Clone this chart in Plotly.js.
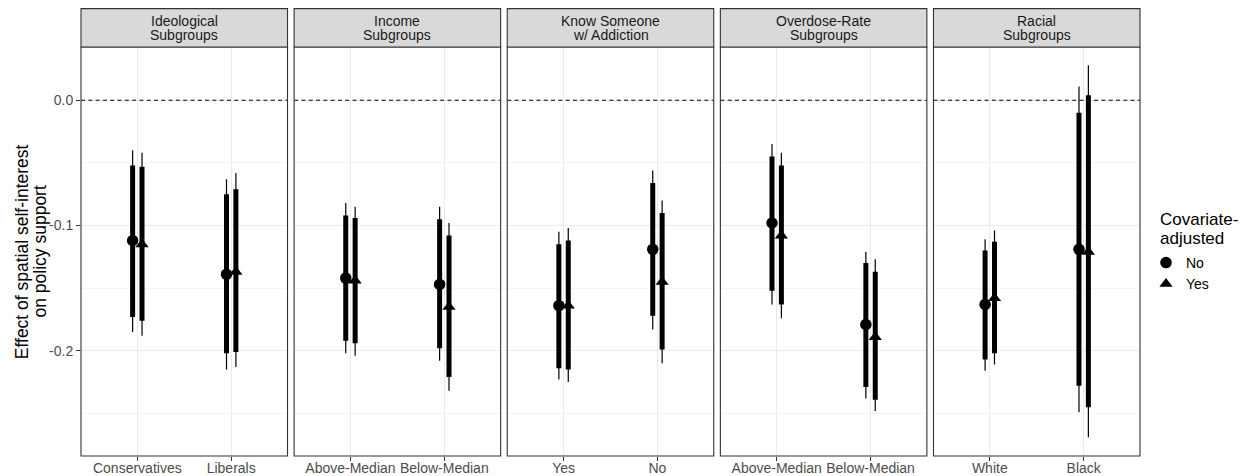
<!DOCTYPE html>
<html>
<head>
<meta charset="utf-8">
<script src="https://cdn.plot.ly/plotly-3.0.1.min.js"></script>
<style>html,body{margin:0;padding:0;background:#fff;}#chart{width:1249px;height:476px;}</style>
</head>
<body>
<div id="chart"></div>
<script>
// ---------------- data ----------------
const stripLine1 = ['Ideological', 'Income', 'Know Someone', 'Overdose-Rate', 'Racial'];
const stripLine2 = ['Subgroups', 'Subgroups', 'w/ Addiction', 'Subgroups', 'Subgroups'];
const categories = [
  ['Conservatives', 'Liberals'],
  ['Above-Median', 'Below-Median'],
  ['Yes', 'No'],
  ['Above-Median', 'Below-Median'],
  ['White', 'Black']
];
const seriesNames = ['No', 'Yes'];
const legendTitleLines = ['Covariate-', 'adjusted'];

// Covariate-adjusted: No  (point estimate, inner interval, outer interval)
const estNo     = [[-0.112, -0.139], [-0.142, -0.147], [-0.164, -0.119], [-0.098, -0.179], [-0.163, -0.119]];
const innerLoNo = [[-0.173, -0.202], [-0.192, -0.198], [-0.214, -0.172], [-0.152, -0.229], [-0.207, -0.228]];
const innerHiNo = [[-0.052, -0.075], [-0.092, -0.095], [-0.115, -0.066], [-0.045, -0.130], [-0.120, -0.010]];
const outerLoNo = [[-0.185, -0.215], [-0.202, -0.208], [-0.223, -0.183], [-0.163, -0.238], [-0.216, -0.249]];
const outerHiNo = [[-0.040, -0.063], [-0.082, -0.085], [-0.105, -0.056], [-0.035, -0.121], [-0.111,  0.011]];

// Covariate-adjusted: Yes
const estYes     = [[-0.115, -0.137], [-0.144, -0.165], [-0.164, -0.145], [-0.108, -0.189], [-0.158, -0.121]];
const innerLoYes = [[-0.176, -0.201], [-0.194, -0.221], [-0.215, -0.199], [-0.163, -0.239], [-0.202, -0.245]];
const innerHiYes = [[-0.053, -0.071], [-0.094, -0.108], [-0.112, -0.090], [-0.052, -0.137], [-0.113,  0.004]];
const outerLoYes = [[-0.188, -0.213], [-0.204, -0.232], [-0.225, -0.210], [-0.174, -0.248], [-0.211, -0.269]];
const outerHiYes = [[-0.042, -0.058], [-0.085, -0.098], [-0.102, -0.080], [-0.042, -0.127], [-0.104,  0.028]];

const yTickVals = [-0.2, -0.1, 0.0];
const yTickText = ['-0.2', '-0.1', '0.0'];
const yMinorVals = [-0.25, -0.15, -0.05];
const referenceY = 0;

// ---------------- layout constants ----------------
const W = 1249, H = 476;
const M = {l: 81, r: 109, t: 47, b: 20};
const plotW = W - M.l - M.r, plotH = H - M.t - M.b;
const nPanels = 5, gapPx = 6.6;
const panelW = (plotW - gapPx * (nPanels - 1)) / nPanels;
const xRange = [0.4, 2.6];
const yRange = [-0.284, 0.0425];
const dodge = [-0.05, 0.05];
const stripH = 38.4;
const FONT = 'Liberation Sans, Arial, Helvetica, sans-serif';
const px2y = py => (H - M.b - py) / plotH;   // page pixel row -> paper y
const px2x = px => (px - M.l) / plotW;       // page pixel col -> paper x

const series = [
  {name: seriesNames[0], est: estNo, iLo: innerLoNo, iHi: innerHiNo, oLo: outerLoNo, oHi: outerHiNo, symbol: 'circle', size: 11.5},
  {name: seriesNames[1], est: estYes, iLo: innerLoYes, iHi: innerHiYes, oLo: outerLoYes, oHi: outerHiYes, symbol: 'triangle-up', size: 11.5}
];

const traces = [];
const layout = {
  width: W, height: H,
  margin: M,
  paper_bgcolor: '#fff', plot_bgcolor: '#fff',
  font: {family: FONT, size: 14, color: '#000'},
  showlegend: true,
  legend: {
    font: {size: 14, color: '#000', family: FONT},
    x: px2x(1146), xanchor: 'left',
    y: px2y(247), yanchor: 'top',
    bgcolor: 'rgba(0,0,0,0)', borderwidth: 0,
    itemwidth: 30, tracegroupgap: 0
  },
  shapes: [],
  annotations: []
};

for (let p = 0; p < nPanels; p++) {
  const sfx = p === 0 ? '' : String(p + 1);
  const xa = 'x' + sfx, ya = 'y' + sfx;
  const d0 = (p * (panelW + gapPx)) / plotW;
  const d1 = (p * (panelW + gapPx) + panelW) / plotW;

  layout['xaxis' + sfx] = {
    domain: [d0, d1], anchor: ya, range: xRange,
    tickmode: 'array', tickvals: [1, 2], ticktext: categories[p],
    ticks: 'outside', ticklen: 4, tickwidth: 1, tickcolor: '#333333',
    ticklabelstandoff: -5,
    tickfont: {size: 14, color: '#4D4D4D', family: FONT},
    showgrid: true, gridcolor: '#EBEBEB', gridwidth: 1.1,
    zeroline: false, showline: false, fixedrange: true, automargin: false
  };
  layout['yaxis' + sfx] = {
    domain: [0, 1], anchor: xa, range: yRange,
    tickmode: 'array', tickvals: yTickVals, ticktext: yTickText,
    showticklabels: p === 0,
    ticks: p === 0 ? 'outside' : '', ticklen: 4, tickwidth: 1, tickcolor: '#333333',
    tickfont: {size: 14, color: '#4D4D4D', family: FONT},
    showgrid: true, gridcolor: '#EBEBEB', gridwidth: 1.1,
    minor: {tickmode: 'array', tickvals: yMinorVals, showgrid: true, gridcolor: '#EBEBEB', gridwidth: 0.55},
    zeroline: false, showline: false, fixedrange: true, automargin: false
  };

  // dashed reference line at zero
  layout.shapes.push({
    type: 'line', xref: xa, yref: ya, x0: xRange[0], x1: xRange[1], y0: referenceY, y1: referenceY,
    line: {color: '#000', width: 1.1, dash: '4px,3.3px'}, layer: 'between'
  });
  // panel border
  layout.shapes.push({
    type: 'rect', xref: xa + ' domain', yref: ya + ' domain', x0: 0, x1: 1, y0: 0, y1: 1,
    line: {color: '#333333', width: 1.1}, fillcolor: 'rgba(0,0,0,0)', layer: 'above'
  });
  // strip
  layout.shapes.push({
    type: 'rect', xref: xa + ' domain', yref: ya + ' domain', x0: 0, x1: 1, y0: 1, y1: 1 + stripH / plotH,
    line: {color: '#333333', width: 1.1}, fillcolor: '#D9D9D9', layer: 'above'
  });
  layout.annotations.push({
    xref: xa + ' domain', yref: 'paper', x: 0.5, y: px2y(20.7),
    text: stripLine1[p], showarrow: false, xanchor: 'center', yanchor: 'middle',
    font: {size: 14, color: '#1A1A1A', family: FONT}
  });
  layout.annotations.push({
    xref: xa + ' domain', yref: 'paper', x: 0.5, y: px2y(35),
    text: stripLine2[p], showarrow: false, xanchor: 'center', yanchor: 'middle',
    font: {size: 14, color: '#1A1A1A', family: FONT}
  });

  series.forEach((s, k) => {
    const xs = [1, 2].map(c => c + dodge[k]);
    const thinX = [], thinY = [], thickX = [], thickY = [];
    xs.forEach((x, j) => {
      thinX.push(x, x, null); thinY.push(s.oLo[p][j], s.oHi[p][j], null);
      thickX.push(x, x, null); thickY.push(s.iLo[p][j], s.iHi[p][j], null);
    });
    traces.push({type: 'scatter', mode: 'lines', x: thinX, y: thinY, xaxis: xa, yaxis: ya,
      line: {color: '#000', width: 1.2}, showlegend: false, hoverinfo: 'skip'});
    traces.push({type: 'scatter', mode: 'lines', x: thickX, y: thickY, xaxis: xa, yaxis: ya,
      line: {color: '#000', width: 5}, showlegend: false, hoverinfo: 'skip'});
    traces.push({type: 'scatter', mode: 'markers', x: xs, y: s.est[p], xaxis: xa, yaxis: ya,
      name: s.name, legendgroup: s.name, showlegend: p === 0,
      marker: {symbol: s.symbol, size: s.size, color: '#000', line: {width: 0}}});
  });
}

// y-axis title (two lines)
const yTitle = ['Effect of spatial self-interest', 'on policy support'];
const yTitleX = [21.7, 39];
yTitle.forEach((t, i) => {
  layout.annotations.push({
    xref: 'paper', yref: 'paper', x: px2x(yTitleX[i]), y: 0.5,
    text: t, textangle: -90, showarrow: false, xanchor: 'center', yanchor: 'middle',
    font: {size: 17.5, color: '#000', family: FONT}
  });
});

// legend title (two lines)
const legendTitleY = [219.3, 238.6];
legendTitleLines.forEach((t, i) => {
  layout.annotations.push({
    xref: 'paper', yref: 'paper', x: px2x(1158), y: px2y(legendTitleY[i]),
    text: t, showarrow: false, xanchor: 'left', yanchor: 'middle',
    font: {size: 17, color: '#000', family: FONT}
  });
});

Plotly.newPlot('chart', traces, layout, {displayModeBar: false, staticPlot: true});
</script>
</body>
</html>
